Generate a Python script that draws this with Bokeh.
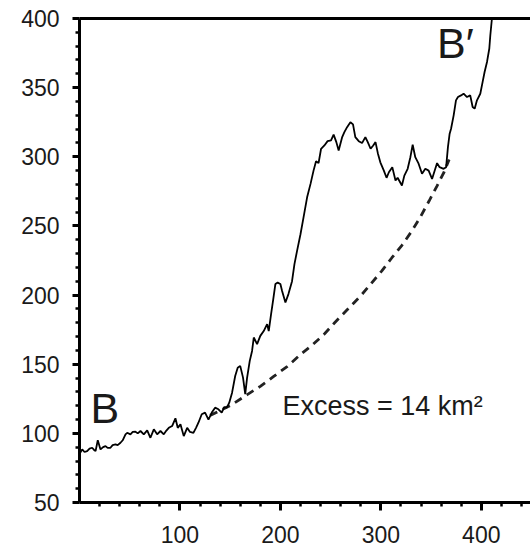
from bokeh.plotting import figure
from bokeh.models import Range1d, FixedTicker, LinearAxis, ColumnDataSource
from bokeh.core.properties import value
from bokeh.embed import file_html
from bokeh.resources import INLINE

# ---- data ----
profile_x = [0, 2.7, 5, 7.6, 10, 12.6, 14.5, 16, 18.2, 20.9, 23.5, 25.9, 28, 30.8, 33, 35.8, 38, 40.8, 43,
             45.8, 47.5, 50.7, 53, 55.7, 58, 60.7, 64, 67.4, 70.6, 74, 77.3, 80.6, 83.9, 86.5, 88.9, 92.2,
             95.5, 97.8, 100.5, 103.8, 107.2, 110, 113.4, 116, 118.4, 121.7, 125, 128.4, 131.7, 135, 138.3,
             141.6, 144, 146.6, 149, 151.9, 155, 157.5, 160, 162.8, 165, 166.8, 169.5, 171.8, 173.5, 176.8,
             180, 183.4, 186.8, 188.4, 190.7, 192.7, 195, 197.3, 200, 201.7, 205, 208, 211.6, 214, 216.6,
             220, 223, 226.6, 230, 233, 235.5, 238, 240.5, 243.8, 247, 250.4, 253, 255.7, 258, 261.4, 263.7,
             266.4, 269.7, 272.3, 274.6, 278, 281.3, 284.6, 287, 289.8, 292.4, 294.7, 297, 299.5, 303, 305.7,
             308, 311.4, 314.6, 316.7, 321, 323.4, 326.7, 329.4, 331.7, 334.3, 337.6, 341, 344.3, 347.6, 351,
             354.2, 356, 358.5, 362.5, 365, 366.8, 368.5, 369.9, 372.5, 374.8, 376.8, 379.8, 382.4, 385.8,
             389, 391.4, 393.4, 395.7, 399, 401.3, 403.3, 405.7, 408, 409, 410.6, 412]
profile_y = [85, 88.4, 86.5, 87.2, 89, 89.6, 88, 87.2, 95, 88.4, 90, 90.8, 89.5, 89.6, 91.5, 92, 91.5, 93.2, 95,
             99.3, 100.4, 99.3, 101, 101.2, 100, 101.7, 99.3, 102.2, 96.8, 102.9, 99.3, 101.7, 99.3, 102, 104,
             105.3, 110.9, 104, 106.5, 98, 104, 101, 100.4, 104, 107.7, 113.8, 115, 110, 115, 118.6, 117.4,
             115, 119, 118.6, 122, 129.4, 141.5, 147.5, 148.8, 140.3, 128.3, 140, 152.4, 159.6, 169.3, 164.5,
             170.5, 174, 179, 174, 186, 196, 208, 209, 208, 203, 194.6, 200.7, 210, 222.4, 232,
             244, 256, 270.7, 280.4, 290, 296.8, 295.4, 305.8, 308.2, 311.3, 311.8, 316, 310.6, 304.6, 314,
             317.8, 321.4, 325, 323.4, 314.2, 311.3, 309.9, 314.2, 310.6, 305.8, 308.2, 310.6, 302.6, 296,
             290, 284.8, 288.8, 292.5, 282.8, 284.8, 279.2, 286.4, 291.3, 299.7, 308.7, 299.7, 295, 287.7,
             291.3, 290, 284, 291.3, 295.4, 292.5, 291.3, 292.5, 307, 316.7, 320.3, 330, 340.8, 343.2, 344.4,
             345.6, 343.2, 344.4, 336, 334.8, 340.8, 345.6, 354, 361.3, 368.6, 378.3, 387.9, 400, 410]

baseline_x = [130, 150, 167, 180, 193, 207, 220, 232, 244, 254, 266, 280, 290, 301, 311, 321, 331, 339,
              348, 356, 363, 368]
baseline_y = [113, 120, 128, 134, 141, 148.5, 157, 164, 172, 180, 189, 199.5, 208, 217.5, 227, 236, 246.5,
              256, 268, 279, 289, 298]

x_major = [100, 200, 300, 400]
x_minor = [20, 40, 60, 80, 120, 140, 160, 180, 220, 240, 260, 280, 320, 340, 360, 380, 420, 440]
y_major = [50, 100, 150, 200, 250, 300, 350, 400]
y_minor = [60, 70, 80, 90, 110, 120, 130, 140, 160, 170, 180, 190, 210, 220, 230, 240, 260, 270, 280, 290,
           310, 320, 330, 340, 360, 370, 380, 390]

labels_text = ["B", "B\u2032"]
labels_x = [11, 356]
labels_y = [118.5, 382]
note_text = ["Excess = 14 km\u00b2"]
note_x = [202]
note_y = [119.5]

# ---- figure ----
p = figure(width=530, height=552, output_backend="svg", toolbar_location=None,
           x_range=Range1d(0, 449), y_range=Range1d(50, 400),
           min_border_left=79, min_border_right=0, min_border_top=18, min_border_bottom=50)
p.background_fill_color = "white"
p.border_fill_color = "white"
p.outline_line_color = None
p.grid.visible = False

p.line(baseline_x, baseline_y, line_color="#222222", line_width=2.8, line_dash="8 6")
p.line(profile_x, profile_y, line_color="black", line_width=1.8)

lab_src = ColumnDataSource(dict(x=labels_x, y=labels_y, t=labels_text))
p.text(x="x", y="y", text="t", source=lab_src, text_font=value("Liberation Sans"),
       text_font_size="43px", text_color="#1a1a1a", text_baseline="alphabetic", text_align="left")
note_src = ColumnDataSource(dict(x=note_x, y=note_y, t=note_text))
p.text(x="x", y="y", text="t", source=note_src, text_font=value("Liberation Sans"),
       text_font_size="27px", text_color="#1a1a1a", text_baseline="alphabetic", text_align="left")

xa = p.xaxis[0]
xa.ticker = FixedTicker(ticks=x_major, minor_ticks=x_minor)
ya = p.yaxis[0]
ya.ticker = FixedTicker(ticks=y_major, minor_ticks=y_minor)
for ax in (xa, ya):
    ax.axis_line_width = 3
    ax.axis_line_color = "black"
    ax.major_tick_line_width = 3
    ax.minor_tick_line_width = 2.5
    ax.major_tick_line_color = "black"
    ax.minor_tick_line_color = "black"
    ax.major_tick_in = 0
    ax.minor_tick_in = 0
    ax.major_label_text_font = "Liberation Sans"
    ax.major_label_text_color = "#1a1a1a"
xa.major_tick_out = 8
xa.minor_tick_out = 4
ya.major_tick_out = 7
ya.minor_tick_out = 4
xa.major_label_text_font_size = "23px"
ya.major_label_text_font_size = "23px"
xa.major_label_standoff = 15
ya.major_label_standoff = 13

top = LinearAxis(ticker=FixedTicker(ticks=[]), axis_line_width=3, axis_line_color="black",
                 major_tick_line_color=None, minor_tick_line_color=None,
                 major_label_text_font_size="0px")
p.add_layout(top, "above")

open("out.html", "w").write(file_html(p, INLINE))
